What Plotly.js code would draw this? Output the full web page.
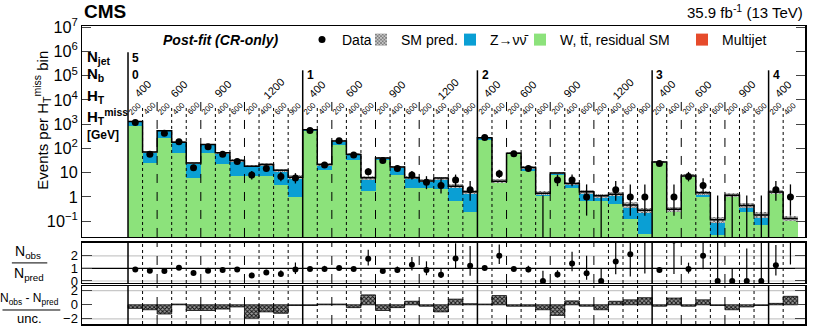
<!DOCTYPE html>
<html>
<head>
<meta charset="utf-8">
<script src="https://cdn.plot.ly/plotly-3.0.1.min.js"></script>
<style>html,body{margin:0;padding:0;background:#fff}</style>
</head>
<body>
<div id="plot" style="width:822px;height:329px"></div>
<script>
// search-bin layout: Nb groups -> HT groups -> HTmiss bins
var nbLabels = ['0', '1', '2', '3', '4'];
var htPerNb = [[400, 600, 900, 1200], [400, 600, 900, 1200], [400, 600, 900, 1200], [400, 600, 900], [400]];
var mhtPerHt = {400: ['200', '400'], 600: ['200', '400', '600'], 900: ['200', '400', '600'], 1200: ['200', '400', '600', '900']};

// post-fit predictions (events per bin)
var wtt = [845, 24.4, 263, 67, 6.1, 67, 22, 7.2, 7.2, 7.4, 3.2, 0.97,
           508, 13.5, 141, 35, 1.8, 32, 7.9, 2.3, 2.4, 2.1, 0.71, 0.24,
           232, 3.8, 57, 11.8, 1.1, 7.9, 2.3, 0.7, 0.71, 0.52, 0.126, 0.03,
           25, 0.28, 6.7, 0.97, 0.028, 1.03, 0.25, 0.068,
           1.5, 0.115];
var znn = [451, 46, 278, 113, 18.7, 78, 44.6, 24.6, 11, 14.4, 9.2, 5.5,
           74, 8.3, 63, 21.5, 4.35, 7.7, 9.3, 3.85, 2.15, 3.85, 2.07, 1.4,
           40.5, 0.65, 6.6, 4.4, 0.31, 1.8, 1.27, 0.94, 0.41, 0.76, 0.34, 0.25,
           2.3, 0.027, 0.65, 0.52, 0.086, 0.13, 0.19, 0.11,
           0.09, 0.014];
var qcd = [4, 0.5, 2, 1, 0.2, 0.8, 0.4, 0.2, 0.2, 0.2, 0.1, 0.05,
           3, 0.2, 1, 0.5, 0.05, 0.3, 0.1, 0.05, 0.05, 0.05, 0.02, 0.01,
           1.5, 0.05, 0.4, 0.1, 0.01, 0.1, 0.03, 0.01, 0.01, 0.01, 0.005, 0.002,
           0.2, 0.003, 0.05, 0.01, 0.001, 0.01, 0.003, 0.001,
           0.01, 0.001];
var uncRel = [0.05, 0.1, 0.06, 0.08, 0.12, 0.08, 0.1, 0.12, 0.12, 0.12, 0.15, 0.18,
              0.05, 0.12, 0.06, 0.1, 0.18, 0.1, 0.12, 0.15, 0.15, 0.15, 0.2, 0.22,
              0.06, 0.18, 0.08, 0.12, 0.22, 0.12, 0.18, 0.22, 0.22, 0.22, 0.28, 0.3,
              0.1, 0.3, 0.15, 0.22, 0.3, 0.22, 0.28, 0.3,
              0.22, 0.3];

// observed counts and Poisson intervals
var nObs = [1190, 58, 429, 190, 16, 118, 58, 29, 8, 15, 7, 6,
            555, 21, 210, 54, 11, 32, 15, 8, 4, 3, 5, 2,
            282, 9, 61, 15, 0, 5, 5, 1, 0, 2, 1, 1,
            24, 1, 7, 3, 0, 0, 0, 0,
            2, 1];
var errHi = [35, 8.7, 21, 14.3, 5.1, 11.4, 8.7, 6.4, 3.9, 4.9, 3.8, 3.6,
             24, 5.6, 15, 8.4, 4.4, 6.7, 4.9, 3.9, 3.2, 2.9, 3.4, 2.6,
             17.3, 4.1, 8.9, 4.9, 1.15, 3.4, 3.4, 2.3, 1.15, 2.6, 2.3, 2.3,
             6, 2.3, 3.8, 2.9, 1.15, 1.15, 1.15, 1.15,
             2.6, 2.3];
var errLo = [34, 7.6, 20.7, 13.8, 4.0, 10.9, 7.6, 5.4, 2.8, 3.8, 2.6, 2.4,
             23.6, 4.6, 14.5, 7.3, 3.3, 5.6, 3.8, 2.8, 1.9, 1.6, 2.2, 1.3,
             16.8, 2.9, 7.8, 3.8, 0, 2.2, 2.2, 0.83, 0, 1.3, 0.83, 0.83,
             4.9, 0.83, 2.6, 1.6, 0, 0, 0, 0,
             1.3, 0.83];

// (Nobs - Npred) / unc.
var pull = [-0.5, -0.7, -1.3, 0.1, -0.8, -0.8, -0.6, -0.3, -1.9, -1.0, -1.2, -0.1,
            -0.1, 0.1, 0.1, -0.4, 1.4, -0.8, -0.4, 0.5, -0.2, -1.0, 0.8, 0.15,
            0.1, 1.3, -0.2, -0.2, -0.7, -1.5, 0.55, -0.2, -0.7, 0.5, 0.7, 1.0,
            -0.2, 0.95, -0.2, 0.7, -0.1, -0.7, -0.3, -0.1,
            0.2, 1.2];

var FONT = 'Liberation Sans, Arial, sans-serif';
var GREEN = '#8ce27b', BLUE = '#0a9fd4', RED = '#e64b2b';

var bins = [];
nbLabels.forEach(function (nb, k) {
  htPerNb[k].forEach(function (ht, j) {
    mhtPerHt[ht].forEach(function (m, i) {
      bins.push({nb: k, ht: ht, mht: m, edge: (j === 0 && i === 0) ? 'nb' : (i === 0 ? 'ht' : 'mht')});
    });
  });
});
var xc = bins.map(function (b, i) { return i + 0.5; });
var total = wtt.map(function (v, i) { return v + znn[i] + qcd[i]; });
var stackZ = wtt;
var stackQ = wtt.map(function (v, i) { return v + znn[i]; });
var uncLo = total.map(function (t, i) { return t / (1 + uncRel[i]); });
var uncH = total.map(function (t, i) { return t * (1 + uncRel[i]) - uncLo[i]; });

var edges = total.map(function (t, i) { return i; }).concat([total.length]);
var stepY = total.concat([total[total.length - 1]]);

// data points (zero counts drawn as an upper error bar only)
var dx = [], dy = [], dh = [], dl = [], zx = [], zy = [], zl = [];
nObs.forEach(function (v, i) {
  if (v > 0) { dx.push(xc[i]); dy.push(v); dh.push(errHi[i]); dl.push(errLo[i]); }
  else { zx.push(xc[i]); zy.push(errHi[i]); zl.push(errHi[i] - 1e-3); }
});
var ratio = nObs.map(function (v, i) { return v / total[i]; });
var rHi = errHi.map(function (e, i) { return e / total[i]; });
var rLo = errLo.map(function (e, i) { return e / total[i]; });

var traces = [
  {type: 'bar', x: xc, y: wtt, width: 1, marker: {color: GREEN, line: {width: 0}},
   name: 'W, tt\u0304, residual SM', legend: 'legend4', hoverinfo: 'skip'},
  {type: 'bar', x: xc, y: znn, base: stackZ, width: 1, marker: {color: BLUE, line: {width: 0}},
   name: 'Z\u2192\u03bd\u03bd\u0304', legend: 'legend3', hoverinfo: 'skip'},
  {type: 'bar', x: xc, y: qcd, base: stackQ, width: 1, marker: {color: RED, line: {width: 0}},
   name: 'Multijet', legend: 'legend5', hoverinfo: 'skip'},
  {type: 'bar', x: xc, y: uncH, base: uncLo, width: 1,
   marker: {color: '#aaa', line: {width: 0}, pattern: {shape: 'x', fgcolor: '#555', bgcolor: '#c8c8c8', size: 3, solidity: 0.4}},
   name: 'SM pred.', legend: 'legend2', hoverinfo: 'skip'},
  {type: 'scatter', mode: 'lines', x: edges, y: stepY, line: {shape: 'hv', color: 'black', width: 1.5},
   showlegend: false, hoverinfo: 'skip'},
  {type: 'scatter', mode: 'markers', x: dx, y: dy, marker: {color: 'black', size: 7},
   error_y: {type: 'data', symmetric: false, array: dh, arrayminus: dl, color: 'black', thickness: 1.3, width: 0},
   name: 'Data', legend: 'legend', hoverinfo: 'skip'},
  {type: 'scatter', mode: 'markers', x: zx, y: zy, marker: {color: 'black', size: 1, opacity: 0},
   error_y: {type: 'data', symmetric: false, array: zy.map(function () { return 0; }), arrayminus: zl, color: 'black', thickness: 1.3, width: 0},
   showlegend: false, hoverinfo: 'skip'},
  {type: 'scatter', mode: 'markers', x: xc, y: ratio, xaxis: 'x2', yaxis: 'y2', marker: {color: 'black', size: 6},
   error_y: {type: 'data', symmetric: false, array: rHi, arrayminus: rLo, color: 'black', thickness: 1.2, width: 0},
   showlegend: false, hoverinfo: 'skip'},
  {type: 'bar', x: xc, y: pull, xaxis: 'x3', yaxis: 'y3', width: 1,
   marker: {color: '#777', line: {color: 'black', width: 0.8}, pattern: {shape: 'x', fgcolor: '#111', bgcolor: '#9a9a9a', size: 3, solidity: 0.5}},
   showlegend: false, hoverinfo: 'skip'}
];

// vertical separators in all three panels
var shapes = [];
bins.forEach(function (b, i) {
  var w = b.edge === 'nb' ? 1.5 : 1;
  var dash = b.edge === 'nb' ? 'solid' : (b.edge === 'ht' ? 'dash' : 'dot');
  var top = b.edge === 'nb' ? (i === 0 ? 0.875 : 0.79) : (b.edge === 'ht' ? 0.668 : 0.626);
  shapes.push({type: 'line', xref: 'x', yref: 'y domain', x0: i, x1: i, y0: 0, y1: top, line: {color: 'black', width: w, dash: dash}});
  shapes.push({type: 'line', xref: 'x2', yref: 'y2 domain', x0: i, x1: i, y0: 0, y1: 1, line: {color: 'black', width: w, dash: dash}});
  shapes.push({type: 'line', xref: 'x3', yref: 'y3 domain', x0: i, x1: i, y0: 0, y1: 1, line: {color: 'black', width: w, dash: dash}});
});
[[0, '#c8c8c8'], [2, '#c8c8c8'], [1, 'black']].forEach(function (h) {
  shapes.push({type: 'line', xref: 'x2 domain', yref: 'y2', x0: 0, x1: 1, y0: h[0], y1: h[0], line: {color: h[1], width: 1.2}, layer: 'below'});
});
[-2, 2].forEach(function (v) {
  shapes.push({type: 'line', xref: 'x3 domain', yref: 'y3', x0: 0, x1: 1, y0: v, y1: v, line: {color: '#c8c8c8', width: 1.2}, layer: 'below'});
});
// fraction bars of the panel titles
shapes.push({type: 'line', xref: 'paper', yref: 'paper', x0: -0.097, x1: -0.048, y0: 0.205, y1: 0.205, line: {color: 'black', width: 1}});
shapes.push({type: 'line', xref: 'paper', yref: 'paper', x0: -0.11, x1: -0.03, y0: 0.047, y1: 0.047, line: {color: 'black', width: 1}});

var ann = [];
function A(o) {
  var f = Object.assign({family: FONT, size: 12, color: 'black'}, o.font || {});
  ann.push(Object.assign({showarrow: false, xanchor: 'center', yanchor: 'middle'}, o, {font: f}));
}
A({xref: 'paper', yref: 'paper', x: 0, y: 1.047, xanchor: 'left', text: '<b>CMS</b>', font: {size: 19}});
A({xref: 'paper', yref: 'paper', x: 1, y: 1.047, xanchor: 'right', text: '35.9 fb<sup>-1</sup> (13 TeV)', font: {size: 15}});
A({xref: 'paper', yref: 'paper', x: 0.191, y: 0.953, text: '<b><i>Post-fit (CR-only)</i></b>', font: {size: 14}});
A({xref: 'paper', yref: 'paper', x: -0.056, y: 0.684, textangle: -90, text: 'Events per H<sub>T</sub><sup>miss</sup> bin', font: {size: 15}});
A({xref: 'paper', yref: 'paper', x: -0.075, y: 0.242, text: 'N<sub>obs</sub>', font: {size: 14}});
A({xref: 'paper', yref: 'paper', x: -0.073, y: 0.168, text: 'N<sub>pred</sub>', font: {size: 14}});
A({xref: 'paper', yref: 'paper', x: -0.072, y: 0.084, text: 'N<sub>obs</sub> - N<sub>pred</sub>', font: {size: 12}});
A({xref: 'paper', yref: 'paper', x: -0.072, y: 0.020, text: 'unc.', font: {size: 13}});

[['<b>N<sub>jet</sub></b>', 0.893, 15], ['<b>N<sub>b</sub></b>', 0.836, 15], ['<b>H<sub>T</sub></b>', 0.765, 15],
 ['<b>H<sub>T</sub><sup>miss</sup></b>', 0.697, 15], ['<b>[GeV]</b>', 0.635, 12]].forEach(function (l) {
  A({xref: 'paper', yref: 'paper', x: 0.004, y: l[1], xanchor: 'left', text: l[0], font: {size: l[2]}});
});
A({xref: 'x', yref: 'paper', x: 0.15, y: 0.893, xanchor: 'left', text: '<b>5</b>', font: {size: 12}});
var start = 0;
nbLabels.forEach(function (nb, k) {
  A({xref: 'x', yref: 'paper', x: start + 0.15, y: 0.836, xanchor: 'left', text: '<b>' + nb + '</b>', font: {size: 12}});
  htPerNb[k].forEach(function (ht) {
    var nm = mhtPerHt[ht].length;
    A({xref: 'x', yref: 'paper', x: start + nm / 2, y: 0.788, textangle: -45, text: String(ht), font: {size: 11}});
    mhtPerHt[ht].forEach(function (m, i) {
      A({xref: 'x', yref: 'paper', x: start + i + 0.5, y: 0.723, textangle: -45, text: m, font: {size: 8}});
    });
    start += nm;
  });
});

function lg(xpx) {
  return {x: (xpx - 82) / 723, y: 0.953, xanchor: 'left', yanchor: 'middle', orientation: 'h',
          bgcolor: 'rgba(0,0,0,0)', itemwidth: 30, font: {family: FONT, size: 14, color: 'black'}};
}

var axBase = {showline: true, linecolor: 'black', linewidth: 1.5, mirror: true, zeroline: false, showgrid: false};
var layout = {
  width: 822, height: 329,
  margin: {l: 82, r: 17, t: 26, b: 5},
  paper_bgcolor: 'white', plot_bgcolor: 'white',
  font: {family: FONT, size: 13, color: 'black'},
  barmode: 'overlay', bargap: 0,
  showlegend: true,
  legend: lg(302), legend2: lg(361), legend3: lg(450), legend4: lg(520), legend5: lg(682),
  xaxis: Object.assign({}, axBase, {range: [-3.16, 46.5], anchor: 'y', showticklabels: false, ticks: ''}),
  xaxis2: Object.assign({}, axBase, {range: [-3.16, 46.5], anchor: 'y2', matches: 'x', showticklabels: false, ticks: ''}),
  xaxis3: Object.assign({}, axBase, {range: [-3.16, 46.5], anchor: 'y3', matches: 'x', showticklabels: false, ticks: ''}),
  yaxis: Object.assign({}, axBase, {type: 'log', range: [-1.65, 7.05], domain: [0.292, 1], dtick: 1,
    exponentformat: 'power', ticks: 'inside', ticklen: 9, mirror: 'ticks', tickfont: {size: 13}}),
  yaxis2: Object.assign({}, axBase, {range: [-0.16, 3.03], domain: [0.1376, 0.272], tickvals: [0, 1, 2],
    ticks: 'inside', ticklen: 10, mirror: 'ticks', tickfont: {size: 13}}),
  yaxis3: Object.assign({}, axBase, {range: [-2.72, 2.66], domain: [0, 0.1275], tickvals: [-2, 0, 2],
    ticks: 'inside', ticklen: 10, mirror: 'ticks', tickfont: {size: 13}}),
  shapes: shapes,
  annotations: ann
};

Plotly.newPlot('plot', traces, layout, {staticPlot: true});
</script>
</body>
</html>
